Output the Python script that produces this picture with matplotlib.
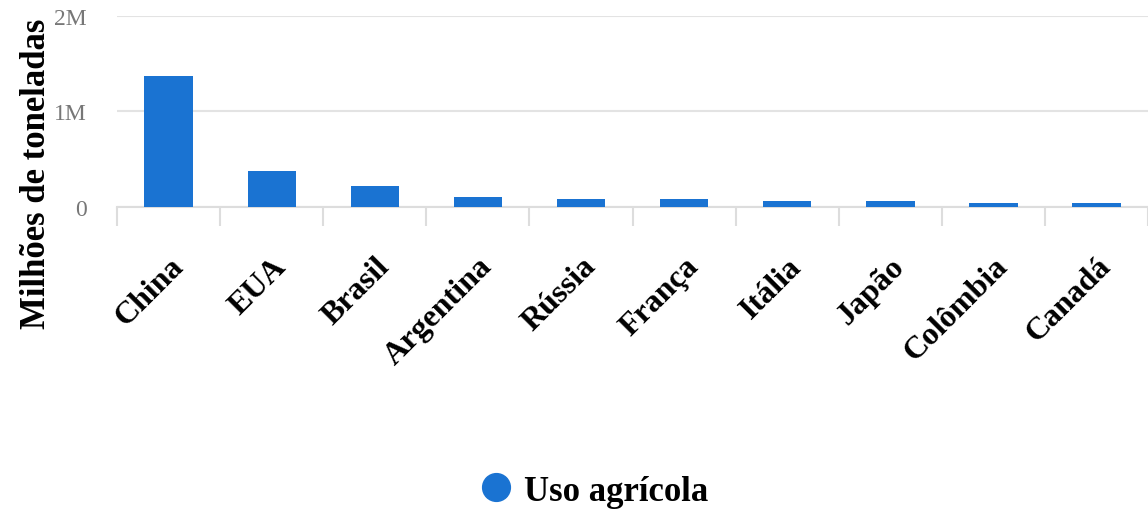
import matplotlib
matplotlib.use("Agg")
import matplotlib.pyplot as plt
from matplotlib.lines import Line2D

# dados (milhões de toneladas)
paises = ["China", "EUA", "Brasil", "Argentina", "Rússia", "França",
          "Itália", "Japão", "Colômbia", "Canadá"]
uso_agricola = [1.37, 0.38, 0.22, 0.11, 0.085, 0.085, 0.063, 0.063, 0.039, 0.039]
yticks = [0, 1, 2]
ytick_labels = ["0", "1M", "2M"]

COR = "#1a73d2"
SERIF = "Liberation Serif"

fig = plt.figure(figsize=(11.48, 5.10), dpi=100)
ax = fig.add_axes([0.102, 0.592, 0.898, 0.375])

x = range(len(paises))
ax.bar(x, uso_agricola, width=0.47, color=COR, zorder=3)

ax.set_xlim(-0.5, len(paises) - 0.5)
ax.set_ylim(0, 2)
ax.set_yticks(yticks)
ax.set_yticklabels(ytick_labels, fontfamily=SERIF, fontsize=17, color="#777777")
ax.yaxis.grid(True, color="#e3e3e3", linewidth=1.5, zorder=0)
ax.tick_params(axis="y", length=0, pad=22)

# separadores entre categorias
ax.set_xticks([i - 0.5 for i in range(len(paises) + 1)], minor=True)
ax.tick_params(axis="x", which="minor", length=14, color="#dddddd", width=1.5)
ax.set_xticks(list(x))
ax.set_xticklabels(paises, rotation=45, ha="right", rotation_mode="anchor",
                   fontfamily=SERIF, fontsize=23, fontweight="bold")
ax.tick_params(axis="x", which="major", length=0, pad=32)

for s in ["top", "right", "left"]:
    ax.spines[s].set_visible(False)
ax.spines["bottom"].set_color("#dddddd")
ax.spines["bottom"].set_linewidth(1.5)

fig.text(0.032, 0.66, "Milhões de toneladas", rotation=90, ha="center", va="center",
         fontfamily=SERIF, fontsize=25, fontweight="bold")

handle = Line2D([], [], marker="o", linestyle="", markersize=20, color=COR)
fig.legend([handle], ["Uso agrícola"], loc="center", bbox_to_anchor=(0.517, 0.035),
           frameon=False, handlelength=1.0, handletextpad=0.3, borderpad=0.2,
           prop={"family": SERIF, "size": 25, "weight": "bold"})

fig.savefig("out.png", dpi=100)
